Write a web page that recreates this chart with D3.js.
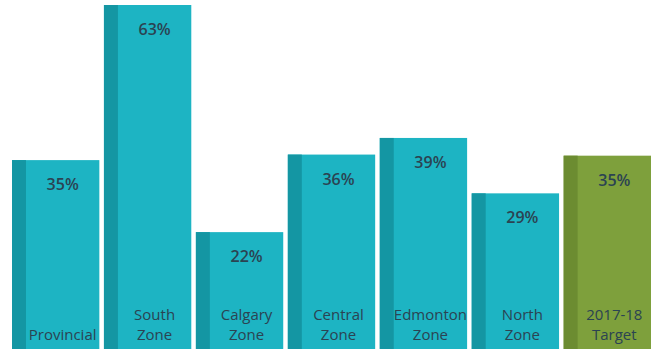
<!DOCTYPE html>
<html>
<head>
<meta charset="utf-8">
<script src="https://cdn.jsdelivr.net/npm/d3@7"></script>
<style>
  body { margin: 0; background: #fff; }
  #my_dataviz { width: 654px; height: 349px; overflow: hidden; }
</style>
</head>
<body>
<div id="my_dataviz"></div>
<script>
// Data (bar heights as drawn, labels as printed)
const categories = ["Provincial", "South\nZone", "Calgary\nZone", "Central\nZone", "Edmonton\nZone", "North\nZone", "2017-18\nTarget"];
const values = [35, 63, 22, 36, 39, 29, 35.8];
const valueLabels = ["35%", "63%", "22%", "36%", "39%", "29%", "35%"];
const isTarget = [false, false, false, false, false, false, true];

const width = 654, height = 349;

const svg = d3.select("#my_dataviz")
  .append("svg")
    .attr("width", width)
    .attr("height", height);

// X scale, one band per bar
const x = d3.scaleBand()
    .domain(categories)
    .range([12, 651])
    .paddingInner(0.05)
    .paddingOuter(0);

// Y scale: zero sits a bit below the bottom edge
const y = d3.scaleLinear()
    .domain([0, 63])
    .range([354, 5]);

const data = categories.map((c, i) => ({ cat: c, value: values[i], label: valueLabels[i], target: isTarget[i] }));
const strip = x.bandwidth() * 0.16;
const faceMid = strip + (x.bandwidth() - strip) / 2;

const bars = svg.append("g")
  .selectAll("g")
  .data(data)
  .join("g")
    .attr("transform", d => `translate(${x(d.cat)},0)`);

// front face
bars.append("rect")
    .attr("x", 0)
    .attr("y", d => y(d.value))
    .attr("width", x.bandwidth())
    .attr("height", d => y(0) - y(d.value))
    .attr("fill", d => d.target ? "#7ea03c" : "#1db4c3");

// darker side strip on the left
bars.append("rect")
    .attr("x", 0)
    .attr("y", d => y(d.value))
    .attr("width", strip)
    .attr("height", d => y(0) - y(d.value))
    .attr("fill", d => d.target ? "#6c8c31" : "#1496a3");

// value labels near the top of each bar
bars.append("text")
    .attr("x", faceMid)
    .attr("y", d => y(d.value) + 30)
    .attr("text-anchor", "middle")
    .style("font-family", "'Open Sans', sans-serif")
    .style("font-size", "16px")
    .style("font-weight", "600")
    .style("fill", "#2b4352")
    .text(d => d.label);

// category labels at the bottom
bars.append("text")
    .attr("text-anchor", "middle")
    .style("font-family", "'Open Sans', sans-serif")
    .style("font-size", "15px")
    .style("fill", "#2b4352")
    .each(function(d) {
      const lines = d.cat.split("\n");
      const t = d3.select(this);
      lines.forEach((ln, i) => {
        t.append("tspan")
          .attr("x", faceMid)
          .attr("y", 340 - (lines.length - 1 - i) * 20)
          .text(ln);
      });
    });
</script>
</body>
</html>
